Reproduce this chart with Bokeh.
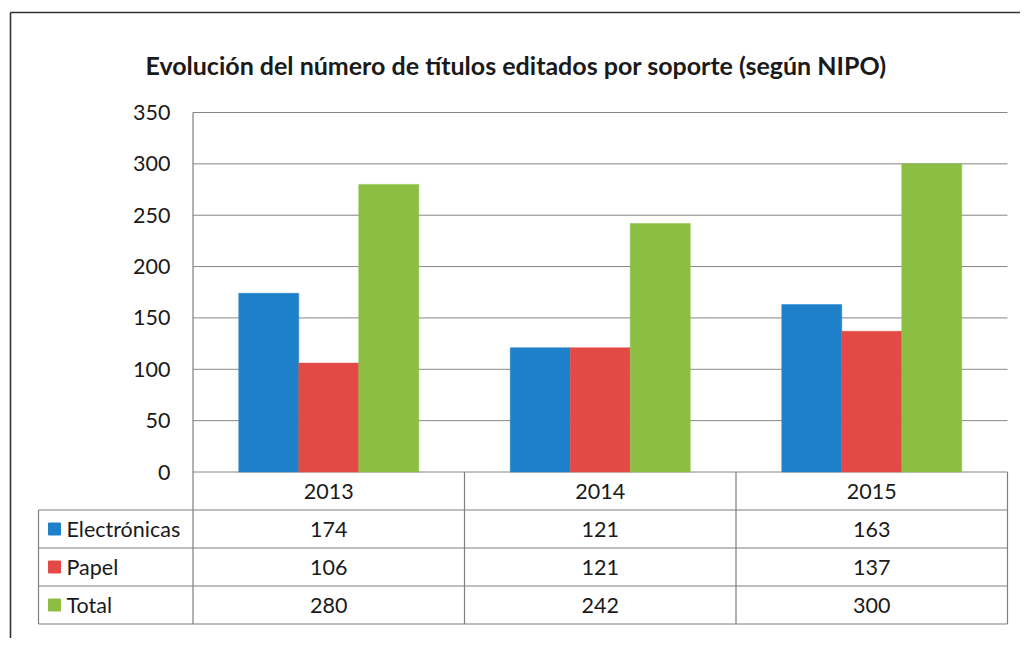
from bokeh.plotting import figure
from bokeh.models import Range1d
from bokeh.core.properties import value
from bokeh.embed import file_html
from bokeh.resources import INLINE

# ---------------- data ----------------
title_text = "Evolución del número de títulos editados por soporte (según NIPO)"
years = ["2013", "2014", "2015"]
series_names = ["Electrónicas", "Papel", "Total"]
electronicas = [174, 121, 163]
papel = [106, 121, 137]
total = [280, 242, 300]
y_ticks = [0, 50, 100, 150, 200, 250, 300, 350]

series_values = [electronicas, papel, total]
series_colors = ["#1E80C9", "#E44A45", "#8BBE42"]

# ---------------- layout (picture pixels) ----------------
W, H = 1020, 638
PX0 = 192.5          # x of the value axis (x = 0)
PX3 = 1007.0         # x of the right edge of the plot area (x = 3)
SX = (PX3 - PX0) / 3.0
PY0 = 471.5          # y of value 0
PY350 = 112.0        # y of value 350
SY = (PY0 - PY350) / 350.0

def dx(px):
    return (px - PX0) / SX

def dy(py):
    return (PY0 - py) / SY

FONT = value("Lato")
FS = "21.5px"
TXT_COLOR = "#1a1a1a"
GRID_COLOR = "#868686"
TABLE_COLOR = "#7f7f7f"
TXT_SHIFT = 8        # visual correction of the text baseline (px)

p = figure(width=W, height=H, x_range=Range1d(dx(0), dx(W)),
           y_range=Range1d(dy(H), dy(0)),
           x_axis_type=None, y_axis_type=None, toolbar_location=None,
           output_backend="svg", min_border=0, min_border_left=0,
           min_border_right=0, min_border_top=0, min_border_bottom=0,
           outline_line_color=None, background_fill_color="white",
           border_fill_color="white")

# outer frame lines (top and left)
p.segment(x0=[dx(10), dx(10)], y0=[dy(12), dy(12)], x1=[dx(W + 5), dx(10)],
          y1=[dy(12), dy(H + 5)], line_color="#333333", line_width=1.6)

# title
p.text(x=[dx(515.5)], y=[dy(74.5 - 10)], text=[title_text], text_font=FONT,
       text_font_size="25px", text_font_style="bold", text_align="center",
       text_baseline="alphabetic", text_color=TXT_COLOR)

# grid lines
n_cat = len(years)
p.segment(x0=[0] * len(y_ticks), y0=y_ticks, x1=[n_cat] * len(y_ticks),
          y1=y_ticks, line_color=GRID_COLOR, line_width=1)

# y tick labels
p.text(x=[dx(170)] * len(y_ticks), y=[t - (8 - TXT_SHIFT) / SY for t in y_ticks],
       text=[str(t) for t in y_ticks], text_font=FONT, text_font_size=FS,
       text_align="right", text_baseline="alphabetic", text_color=TXT_COLOR)

# bars
bar_w = 60 / SX
for k, (vals, col) in enumerate(zip(series_values, series_colors)):
    xs = [i + 0.5 + (k - 1) * bar_w for i in range(n_cat)]
    p.vbar(x=xs, top=vals, bottom=0, width=bar_w, fill_color=col,
           line_color=col, line_width=0.5)

# data table
row_h = 38 / SY
n_rows = len(series_names)
row_tops = [-(r + 1) * row_h for r in range(n_rows)]      # top of each series row
table_bottom = -(n_rows + 1) * row_h
left_col = dx(38)

# horizontal table lines
hx0 = [left_col] * n_rows + [left_col]
hy = row_tops + [table_bottom]
p.segment(x0=hx0, y0=hy, x1=[n_cat] * len(hy), y1=hy,
          line_color=TABLE_COLOR, line_width=1.2)
# vertical lines: value axis, category separators, right edge, left edge
p.segment(x0=[0], y0=[y_ticks[-1]], x1=[0], y1=[table_bottom],
          line_color=TABLE_COLOR, line_width=1.2)
p.segment(x0=[1, 2, 3], y0=[0, 0, 0], x1=[1, 2, 3],
          y1=[table_bottom] * 3, line_color=TABLE_COLOR, line_width=1.2)
p.segment(x0=[left_col], y0=[row_tops[0]], x1=[left_col], y1=[table_bottom],
          line_color=TABLE_COLOR, line_width=1.2)

base_off = (27 - TXT_SHIFT) / SY
# year labels
p.text(x=[i + 0.5 for i in range(n_cat)], y=[-base_off] * n_cat, text=years,
       text_font=FONT, text_font_size=FS, text_align="center",
       text_baseline="alphabetic", text_color=TXT_COLOR)

# series rows
for r, (name, vals, col) in enumerate(zip(series_names, series_values, series_colors)):
    top = row_tops[r]
    p.rect(x=[dx(54)], y=[top - row_h / 2], width=12, height=12,
           width_units="screen", height_units="screen", fill_color=col,
           line_color=col)
    p.text(x=[dx(66)], y=[top - base_off], text=[name], text_font=FONT,
           text_font_size=FS, text_align="left",
           text_baseline="alphabetic", text_color=TXT_COLOR)
    p.text(x=[i + 0.5 for i in range(n_cat)], y=[top - base_off] * n_cat,
           text=[str(v) for v in vals], text_font=FONT, text_font_size=FS,
           text_align="center", text_baseline="alphabetic",
           text_color=TXT_COLOR)

open("out.html", "w").write(file_html(p, INLINE))
